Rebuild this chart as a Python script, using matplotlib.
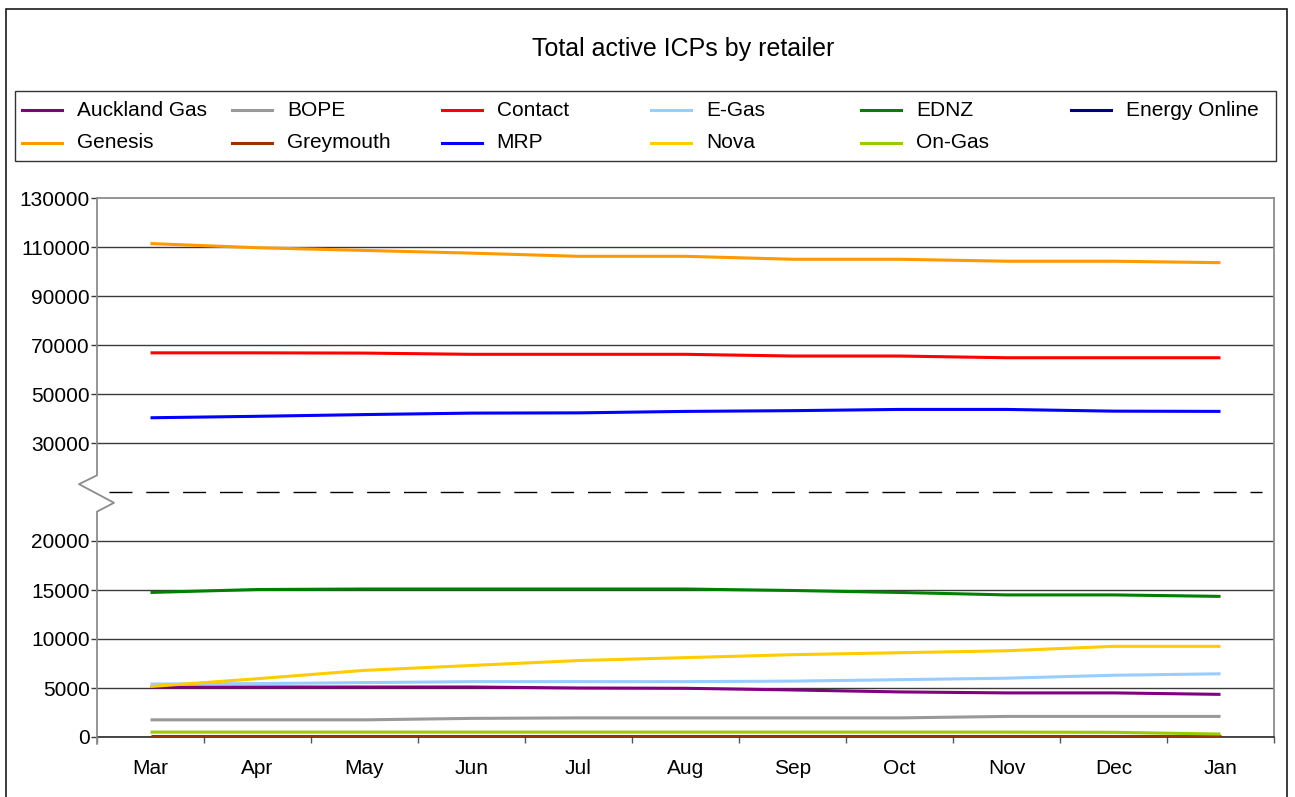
from __future__ import annotations

import matplotlib

matplotlib.use("Agg")

import matplotlib.lines
import matplotlib.patches
import matplotlib.pyplot as plt
import numpy as np
from matplotlib.ticker import FixedLocator

plt.rcParams["font.family"] = ["Liberation Sans", "DejaVu Sans"]

months = ["Mar", "Apr", "May", "Jun", "Jul", "Aug", "Sep", "Oct", "Nov", "Dec", "Jan"]

retailers = [
    "Auckland Gas", "BOPE", "Contact", "E-Gas", "EDNZ", "Energy Online",
    "Genesis", "Greymouth", "MRP", "Nova", "On-Gas",
]

auckland_gas = [5100, 5100, 5100, 5100, 5000, 4970, 4800, 4600, 4500, 4500, 4350]
bope = [1750, 1750, 1750, 1900, 1950, 1950, 1950, 1950, 2100, 2100, 2100]
contact = [66800, 66800, 66700, 66200, 66200, 66200, 65500, 65500, 64800, 64800, 64800]
e_gas = [5400, 5450, 5550, 5650, 5650, 5650, 5700, 5850, 6000, 6300, 6450]
ednz = [14750, 15050, 15100, 15100, 15100, 15100, 14950, 14750, 14500, 14500, 14350]
energy_online = [10, 10, 10, 10, 10, 10, 10, 10, 10, 10, 10]
genesis = [111400, 109700, 108600, 107500, 106200, 106200, 105000, 105000, 104200, 104200, 103600]
greymouth = [60, 60, 60, 60, 60, 60, 60, 60, 60, 60, 60]
mrp = [40300, 40900, 41600, 42200, 42300, 42900, 43200, 43700, 43700, 43000, 42900]
nova = [5150, 5950, 6800, 7300, 7800, 8100, 8400, 8600, 8800, 9250, 9250]
on_gas = [500, 500, 500, 500, 500, 500, 500, 500, 500, 480, 300]

series = [
    auckland_gas, bope, contact, e_gas, ednz, energy_online,
    genesis, greymouth, mrp, nova, on_gas,
]

colors = [
    "#800080", "#999999", "#FF0000", "#99CCFF", "#008000", "#000080",
    "#FF9900", "#993300", "#0000FF", "#FFCC00", "#99CC00",
]

y_ticks = [0, 5000, 10000, 15000, 20000, 30000, 50000, 70000, 90000, 110000, 130000]
axis_break = 25000

W, H = 1295, 797


def squash(values: np.ndarray) -> np.ndarray:
    # above 30000 the axis runs at a quarter of the scale
    values = np.asarray(values, dtype=float)
    return np.where(values < 30000, values, 30000 + (values - 30000) / 4)


def unsquash(values: np.ndarray) -> np.ndarray:
    values = np.asarray(values, dtype=float)
    return np.where(values < 30000, values, 30000 + (values - 30000) * 4)


def px(x: float, y: float) -> tuple[float, float]:
    return x / W, 1 - y / H


fig = plt.figure(figsize=(W / 100, H / 100), dpi=100)
ax = fig.add_axes([97 / W, 60 / H, 1177 / W, 539 / H])
ax.set_yscale("function", functions=(squash, unsquash))

x = np.arange(len(months))
for values, color in zip(series, colors):
    ax.plot(x, values, color=color, lw=2.2, solid_capstyle="butt", zorder=3)

ax.set_xlim(-0.5, len(months) - 0.5)
ax.set_ylim(0, 130000)

# gridlines (top one is the plot border)
for value in y_ticks[:-1]:
    ax.axhline(value, color="#3a3a3a", lw=1, zorder=1)
ax.axhline(axis_break, xmin=0.01, xmax=0.99, color="black", lw=1, dashes=(16.5, 10), zorder=1)

ax.yaxis.set_major_locator(FixedLocator(y_ticks))
ax.set_yticklabels([str(v) for v in y_ticks])
ax.tick_params(axis="y", length=4.3, width=1, color="#3a3a3a", pad=1, labelsize=15)

ax.set_xticks(x)
ax.set_xticklabels(months)
ax.set_xticks(np.arange(len(months) + 1) - 0.5, minor=True)
ax.tick_params(axis="x", which="major", length=0, pad=16, labelsize=15)
ax.tick_params(axis="x", which="minor", length=4.5, width=1, color="#555555")

for side in ["top", "right"]:
    ax.spines[side].set_color("#8c8c8c")
    ax.spines[side].set_linewidth(1.3)
ax.spines["bottom"].set_color("#2a2a2a")
ax.spines["bottom"].set_linewidth(1.2)
ax.spines["left"].set_visible(False)

# left axis line with the break marker
trans = ax.get_yaxis_transform()
dx_left, dx_right = -18 / 1177, 17 / 1177
ax.add_line(
    matplotlib.lines.Line2D(
        [0, 0, dx_left, dx_right, 0, 0, 0],
        [130000, 26700, 25800, 23900, 23000, 0, -700],
        transform=trans, color="#8c8c8c", lw=1.3, clip_on=False, zorder=4,
    ),
)

fig.text(*px(683, 49), "Total active ICPs by retailer", fontsize=18, ha="center", va="center")

# outer frame
fig.add_artist(
    matplotlib.patches.Rectangle(
        px(6, 805), 1281 / W, 796 / H, transform=fig.transFigure,
        fill=False, edgecolor="#1a1a1a", lw=1.2,
    ),
)

# legend box
fig.add_artist(
    matplotlib.patches.Rectangle(
        px(15, 161), 1261 / W, 70 / H, transform=fig.transFigure,
        fill=False, edgecolor="#333333", lw=1,
    ),
)
for i, (name, color) in enumerate(zip(retailers, colors)):
    col, row = i % 6, i // 6
    hx = 22 + col * 209.8
    hy = 110 + row * 33
    fig.add_artist(
        matplotlib.lines.Line2D(
            [hx / W, (hx + 40) / W], [1 - hy / H] * 2,
            transform=fig.transFigure, color=color, lw=2.2,
        ),
    )
    fig.text(*px(hx + 55, hy), name, fontsize=15, ha="left", va="center")

fig.savefig("out.png", dpi=100)
